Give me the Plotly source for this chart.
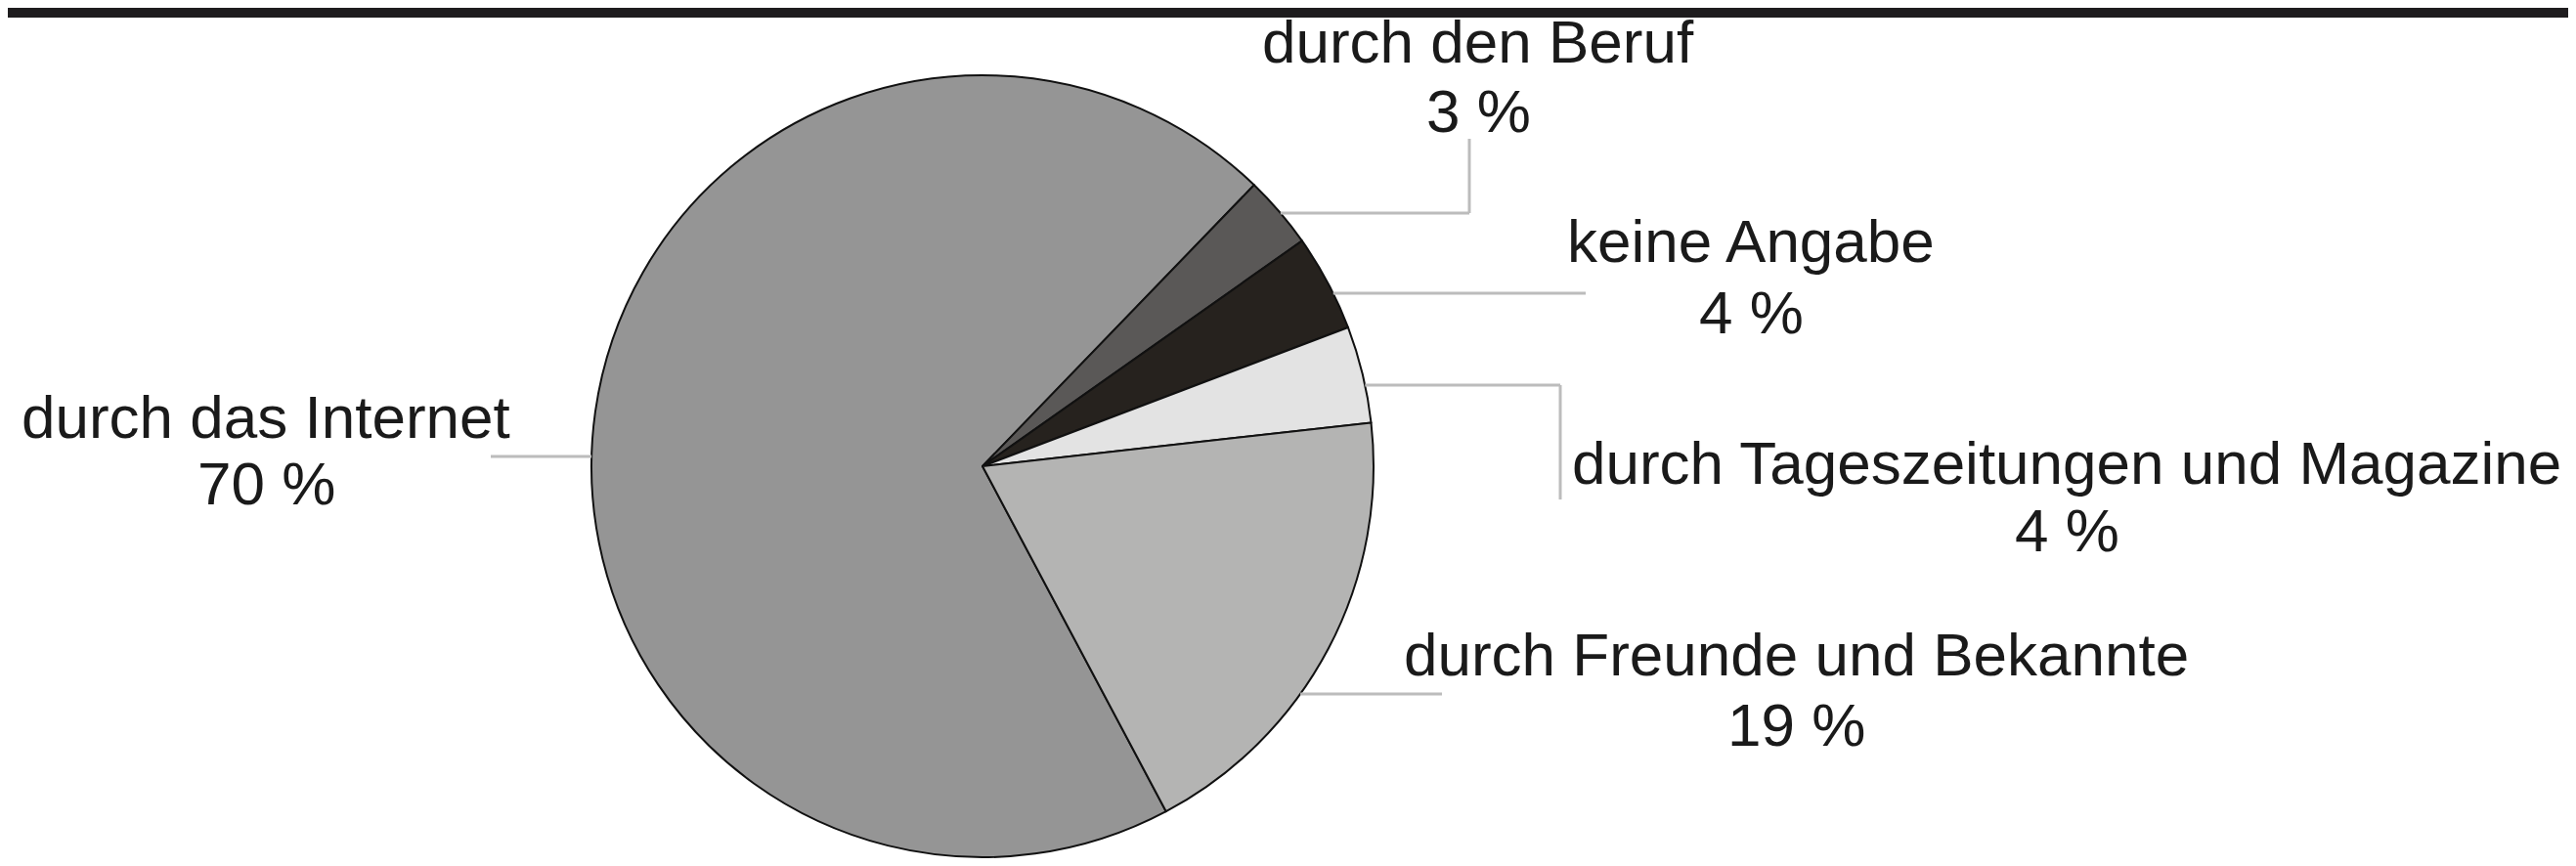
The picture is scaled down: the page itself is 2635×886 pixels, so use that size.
import math
import plotly.graph_objects as go

# ---- data ----
labels = ["durch das Internet", "durch den Beruf", "keine Angabe",
          "durch Tageszeitungen und Magazine", "durch Freunde und Bekannte"]
values = [70, 3, 4, 4, 19]
pct_text = ["70 %", "3 %", "4 %", "4 %", "19 %"]
colors = ["#959595", "#5a5857", "#26221e", "#e3e3e3", "#b4b4b3"]

W, H = 2635, 886
CX, CY, R = 997, 469, 400  # pie centre / radius in pixels (layout)


def px(x, y):
    return x / W, (H - y) / H


fig = go.Figure()
fig.add_trace(go.Pie(
    labels=labels, values=values, sort=False, direction="clockwise",
    rotation=152, textinfo="none", hoverinfo="skip",
    marker=dict(colors=colors, line=dict(color="#111111", width=2)),
    domain=dict(x=[(CX - R) / W, (CX + R) / W],
                y=[(H - CY - R) / H, (H - CY + R) / H]),
    showlegend=False,
))

# label positions (pixels): (x centre, y of name line, y of percent line)
label_pos = [(264, 418, 487), (1504, 35, 105), (1783, 238, 311),
             (2106, 466, 534), (1829, 661, 733)]
leaders = [
    # (y of horizontal segment, side, x end, optional vertical end y)
    (459, -1, 494, None),
    (210, 1, 1495, 134),
    (292, 1, 1614, None),
    (386, 1, 1588, 503),
    (702, 1, 1467, None),
]

shapes = []
line_style = dict(color="#bcbcbc", width=3)
for (ly, side, xend, vend) in leaders:
    xedge = CX + side * math.sqrt(R ** 2 - (ly - CY) ** 2)
    x0, y0 = px(xedge, ly)
    x1, y1 = px(xend, ly)
    shapes.append(dict(type="line", xref="paper", yref="paper",
                       x0=x0, y0=y0, x1=x1, y1=y1, line=line_style))
    if vend is not None:
        x2, y2 = px(xend, vend)
        shapes.append(dict(type="line", xref="paper", yref="paper",
                           x0=x1, y0=y1, x1=x2, y1=y2, line=line_style))

# dark band on top
bx0, by0 = px(0, 10)
bx1, by1 = px(W, 0)
shapes.append(dict(type="rect", xref="paper", yref="paper", x0=bx0, y0=by0,
                   x1=bx1, y1=by1, fillcolor="#1e1c1e", line=dict(width=0),
                   layer="above"))

font = dict(family="Liberation Sans, Arial, sans-serif", size=62,
            color="#1a1a1a")
annotations = []
for lab, pt, (x, y1, y2) in zip(labels, pct_text, label_pos):
    for txt, yy in ((lab, y1), (pt, y2)):
        ax, ay = px(x, yy)
        annotations.append(dict(
            text=txt, x=ax, y=ay, xref="paper", yref="paper",
            xanchor="center", yanchor="middle", showarrow=False,
            align="center", font=font,
        ))

fig.update_layout(
    width=W, height=H, margin=dict(l=0, r=0, t=0, b=0),
    paper_bgcolor="white", plot_bgcolor="white",
    shapes=shapes, annotations=annotations, hovermode=False,
)

fig.write_html("out.html")
